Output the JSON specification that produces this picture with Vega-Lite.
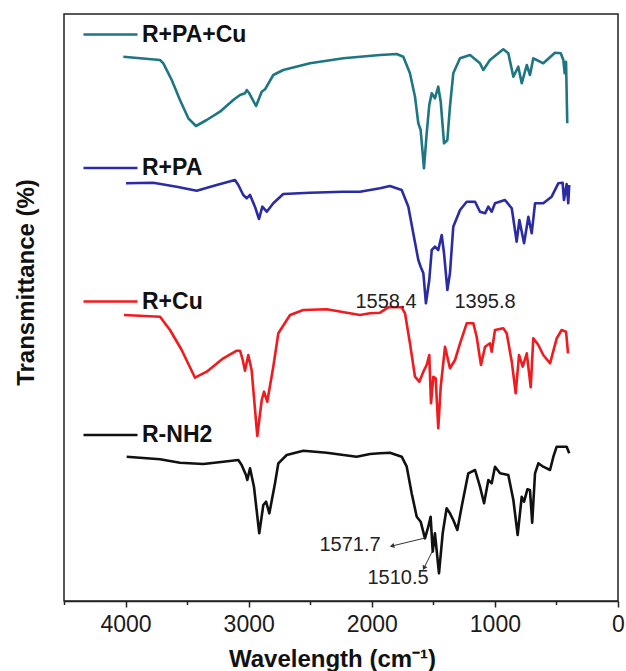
{
  "$schema": "https://vega.github.io/schema/vega-lite/v6.json",
  "width": 554,
  "height": 587,
  "autosize": {"type": "none"},
  "padding": {"left": 64, "top": 14, "right": 8, "bottom": 70},
  "background": "white",
  "config": {
    "font": "Liberation Sans",
    "view": {"stroke": "#222222", "strokeWidth": 1.5},
    "axis": {"domainColor": "#222222", "domainWidth": 1.5, "tickColor": "#222222", "tickWidth": 1.5, "grid": false, "labelFont": "Liberation Sans", "titleFont": "Liberation Sans"}
  },
  "datasets": {
    "spectra": [
      {"sample": "R+PA+Cu", "wn": 4018, "t": 544.3}, {"sample": "R+PA+Cu", "wn": 3720, "t": 541}, {"sample": "R+PA+Cu", "wn": 3693, "t": 537.7}, {"sample": "R+PA+Cu", "wn": 3625, "t": 521}, {"sample": "R+PA+Cu", "wn": 3558, "t": 501}, {"sample": "R+PA+Cu", "wn": 3490, "t": 482.7}, {"sample": "R+PA+Cu", "wn": 3428, "t": 475}, {"sample": "R+PA+Cu", "wn": 3341, "t": 481}, {"sample": "R+PA+Cu", "wn": 3233, "t": 489.3}, {"sample": "R+PA+Cu", "wn": 3125, "t": 501}, {"sample": "R+PA+Cu", "wn": 3070, "t": 506}, {"sample": "R+PA+Cu", "wn": 3030, "t": 507.7}, {"sample": "R+PA+Cu", "wn": 3016, "t": 511}, {"sample": "R+PA+Cu", "wn": 2995, "t": 507.7}, {"sample": "R+PA+Cu", "wn": 2940, "t": 495}, {"sample": "R+PA+Cu", "wn": 2894, "t": 509.3}, {"sample": "R+PA+Cu", "wn": 2867, "t": 511.7}, {"sample": "R+PA+Cu", "wn": 2800, "t": 526}, {"sample": "R+PA+Cu", "wn": 2719, "t": 531}, {"sample": "R+PA+Cu", "wn": 2502, "t": 537.7}, {"sample": "R+PA+Cu", "wn": 2231, "t": 542.7}, {"sample": "R+PA+Cu", "wn": 1933, "t": 546}, {"sample": "R+PA+Cu", "wn": 1798, "t": 547}, {"sample": "R+PA+Cu", "wn": 1744, "t": 544.3}, {"sample": "R+PA+Cu", "wn": 1690, "t": 527.7}, {"sample": "R+PA+Cu", "wn": 1649, "t": 504.3}, {"sample": "R+PA+Cu", "wn": 1622, "t": 477.7}, {"sample": "R+PA+Cu", "wn": 1603, "t": 471}, {"sample": "R+PA+Cu", "wn": 1576, "t": 432.7}, {"sample": "R+PA+Cu", "wn": 1554, "t": 467.7}, {"sample": "R+PA+Cu", "wn": 1533, "t": 496}, {"sample": "R+PA+Cu", "wn": 1513, "t": 507.7}, {"sample": "R+PA+Cu", "wn": 1487, "t": 502.7}, {"sample": "R+PA+Cu", "wn": 1460, "t": 514.3}, {"sample": "R+PA+Cu", "wn": 1440, "t": 499.3}, {"sample": "R+PA+Cu", "wn": 1413, "t": 457.7}, {"sample": "R+PA+Cu", "wn": 1386, "t": 461}, {"sample": "R+PA+Cu", "wn": 1365, "t": 494.3}, {"sample": "R+PA+Cu", "wn": 1338, "t": 527.7}, {"sample": "R+PA+Cu", "wn": 1283, "t": 542.7}, {"sample": "R+PA+Cu", "wn": 1202, "t": 546}, {"sample": "R+PA+Cu", "wn": 1121, "t": 537.7}, {"sample": "R+PA+Cu", "wn": 1094, "t": 531}, {"sample": "R+PA+Cu", "wn": 1040, "t": 541}, {"sample": "R+PA+Cu", "wn": 932, "t": 551.7}, {"sample": "R+PA+Cu", "wn": 891, "t": 547.7}, {"sample": "R+PA+Cu", "wn": 850, "t": 524.3}, {"sample": "R+PA+Cu", "wn": 810, "t": 534.3}, {"sample": "R+PA+Cu", "wn": 782, "t": 517.7}, {"sample": "R+PA+Cu", "wn": 741, "t": 536}, {"sample": "R+PA+Cu", "wn": 715, "t": 526}, {"sample": "R+PA+Cu", "wn": 688, "t": 542.7}, {"sample": "R+PA+Cu", "wn": 660, "t": 541}, {"sample": "R+PA+Cu", "wn": 607, "t": 537.7}, {"sample": "R+PA+Cu", "wn": 512, "t": 548.3}, {"sample": "R+PA+Cu", "wn": 465, "t": 547.7}, {"sample": "R+PA+Cu", "wn": 444, "t": 541}, {"sample": "R+PA+Cu", "wn": 433, "t": 527.7}, {"sample": "R+PA+Cu", "wn": 422, "t": 539.3}, {"sample": "R+PA+Cu", "wn": 412, "t": 477.7},
      {"sample": "R+PA", "wn": 3996, "t": 417.7}, {"sample": "R+PA", "wn": 3775, "t": 418.3}, {"sample": "R+PA", "wn": 3585, "t": 414.3}, {"sample": "R+PA", "wn": 3422, "t": 410.3}, {"sample": "R+PA", "wn": 3260, "t": 416}, {"sample": "R+PA", "wn": 3111, "t": 421}, {"sample": "R+PA", "wn": 3084, "t": 416}, {"sample": "R+PA", "wn": 3044, "t": 406}, {"sample": "R+PA", "wn": 3016, "t": 402.7}, {"sample": "R+PA", "wn": 2989, "t": 406}, {"sample": "R+PA", "wn": 2949, "t": 394.3}, {"sample": "R+PA", "wn": 2916, "t": 382}, {"sample": "R+PA", "wn": 2889, "t": 394.3}, {"sample": "R+PA", "wn": 2853, "t": 389.3}, {"sample": "R+PA", "wn": 2800, "t": 397.7}, {"sample": "R+PA", "wn": 2719, "t": 407}, {"sample": "R+PA", "wn": 2502, "t": 408.3}, {"sample": "R+PA", "wn": 2231, "t": 409.3}, {"sample": "R+PA", "wn": 2096, "t": 409.3}, {"sample": "R+PA", "wn": 1933, "t": 412.7}, {"sample": "R+PA", "wn": 1852, "t": 415}, {"sample": "R+PA", "wn": 1757, "t": 411}, {"sample": "R+PA", "wn": 1703, "t": 394.3}, {"sample": "R+PA", "wn": 1663, "t": 367.7}, {"sample": "R+PA", "wn": 1622, "t": 341}, {"sample": "R+PA", "wn": 1603, "t": 334.3}, {"sample": "R+PA", "wn": 1581, "t": 327.7}, {"sample": "R+PA", "wn": 1560, "t": 297.7}, {"sample": "R+PA", "wn": 1533, "t": 321}, {"sample": "R+PA", "wn": 1513, "t": 351}, {"sample": "R+PA", "wn": 1487, "t": 354.3}, {"sample": "R+PA", "wn": 1460, "t": 351}, {"sample": "R+PA", "wn": 1432, "t": 366}, {"sample": "R+PA", "wn": 1413, "t": 347.7}, {"sample": "R+PA", "wn": 1386, "t": 311}, {"sample": "R+PA", "wn": 1365, "t": 327.7}, {"sample": "R+PA", "wn": 1338, "t": 374.3}, {"sample": "R+PA", "wn": 1283, "t": 391}, {"sample": "R+PA", "wn": 1229, "t": 399.3}, {"sample": "R+PA", "wn": 1161, "t": 399.3}, {"sample": "R+PA", "wn": 1121, "t": 389.3}, {"sample": "R+PA", "wn": 1080, "t": 387.7}, {"sample": "R+PA", "wn": 1053, "t": 394.3}, {"sample": "R+PA", "wn": 1026, "t": 389.3}, {"sample": "R+PA", "wn": 999, "t": 397.7}, {"sample": "R+PA", "wn": 918, "t": 401}, {"sample": "R+PA", "wn": 863, "t": 392.7}, {"sample": "R+PA", "wn": 823, "t": 359.3}, {"sample": "R+PA", "wn": 801, "t": 381}, {"sample": "R+PA", "wn": 763, "t": 357.7}, {"sample": "R+PA", "wn": 728, "t": 384.3}, {"sample": "R+PA", "wn": 701, "t": 367.7}, {"sample": "R+PA", "wn": 674, "t": 397.7}, {"sample": "R+PA", "wn": 607, "t": 397.7}, {"sample": "R+PA", "wn": 539, "t": 404.3}, {"sample": "R+PA", "wn": 485, "t": 417.7}, {"sample": "R+PA", "wn": 450, "t": 418.3}, {"sample": "R+PA", "wn": 439, "t": 401}, {"sample": "R+PA", "wn": 417, "t": 417}, {"sample": "R+PA", "wn": 404, "t": 397.7}, {"sample": "R+PA", "wn": 396, "t": 416},
      {"sample": "R+Cu", "wn": 4013, "t": 286}, {"sample": "R+Cu", "wn": 3720, "t": 284.3}, {"sample": "R+Cu", "wn": 3639, "t": 271}, {"sample": "R+Cu", "wn": 3544, "t": 251}, {"sample": "R+Cu", "wn": 3436, "t": 223.3}, {"sample": "R+Cu", "wn": 3341, "t": 229.3}, {"sample": "R+Cu", "wn": 3206, "t": 242.7}, {"sample": "R+Cu", "wn": 3097, "t": 250.3}, {"sample": "R+Cu", "wn": 3070, "t": 250.3}, {"sample": "R+Cu", "wn": 3048, "t": 241}, {"sample": "R+Cu", "wn": 3030, "t": 230.3}, {"sample": "R+Cu", "wn": 3003, "t": 246}, {"sample": "R+Cu", "wn": 2976, "t": 231}, {"sample": "R+Cu", "wn": 2930, "t": 165}, {"sample": "R+Cu", "wn": 2894, "t": 201}, {"sample": "R+Cu", "wn": 2875, "t": 209.3}, {"sample": "R+Cu", "wn": 2849, "t": 199.3}, {"sample": "R+Cu", "wn": 2800, "t": 234.3}, {"sample": "R+Cu", "wn": 2759, "t": 267.7}, {"sample": "R+Cu", "wn": 2664, "t": 286}, {"sample": "R+Cu", "wn": 2556, "t": 291}, {"sample": "R+Cu", "wn": 2366, "t": 291.7}, {"sample": "R+Cu", "wn": 2096, "t": 286}, {"sample": "R+Cu", "wn": 2014, "t": 287.7}, {"sample": "R+Cu", "wn": 1933, "t": 288.3}, {"sample": "R+Cu", "wn": 1866, "t": 293.7}, {"sample": "R+Cu", "wn": 1757, "t": 293.7}, {"sample": "R+Cu", "wn": 1730, "t": 287.7}, {"sample": "R+Cu", "wn": 1690, "t": 257.7}, {"sample": "R+Cu", "wn": 1649, "t": 224.3}, {"sample": "R+Cu", "wn": 1614, "t": 219.3}, {"sample": "R+Cu", "wn": 1581, "t": 229.3}, {"sample": "R+Cu", "wn": 1554, "t": 236}, {"sample": "R+Cu", "wn": 1533, "t": 246}, {"sample": "R+Cu", "wn": 1519, "t": 197.7}, {"sample": "R+Cu", "wn": 1500, "t": 224.3}, {"sample": "R+Cu", "wn": 1481, "t": 222.7}, {"sample": "R+Cu", "wn": 1460, "t": 172.7}, {"sample": "R+Cu", "wn": 1440, "t": 214.3}, {"sample": "R+Cu", "wn": 1405, "t": 254.3}, {"sample": "R+Cu", "wn": 1365, "t": 232.7}, {"sample": "R+Cu", "wn": 1324, "t": 241}, {"sample": "R+Cu", "wn": 1283, "t": 257.7}, {"sample": "R+Cu", "wn": 1229, "t": 277.7}, {"sample": "R+Cu", "wn": 1175, "t": 277.7}, {"sample": "R+Cu", "wn": 1148, "t": 264.3}, {"sample": "R+Cu", "wn": 1113, "t": 236}, {"sample": "R+Cu", "wn": 1080, "t": 254.3}, {"sample": "R+Cu", "wn": 1040, "t": 257.7}, {"sample": "R+Cu", "wn": 1026, "t": 249.3}, {"sample": "R+Cu", "wn": 999, "t": 271}, {"sample": "R+Cu", "wn": 932, "t": 272.7}, {"sample": "R+Cu", "wn": 904, "t": 267.7}, {"sample": "R+Cu", "wn": 863, "t": 239.3}, {"sample": "R+Cu", "wn": 831, "t": 207.7}, {"sample": "R+Cu", "wn": 804, "t": 246}, {"sample": "R+Cu", "wn": 774, "t": 234.3}, {"sample": "R+Cu", "wn": 741, "t": 247.7}, {"sample": "R+Cu", "wn": 709, "t": 213.7}, {"sample": "R+Cu", "wn": 688, "t": 262.7}, {"sample": "R+Cu", "wn": 647, "t": 256}, {"sample": "R+Cu", "wn": 607, "t": 246}, {"sample": "R+Cu", "wn": 552, "t": 237.7}, {"sample": "R+Cu", "wn": 498, "t": 262.7}, {"sample": "R+Cu", "wn": 458, "t": 271}, {"sample": "R+Cu", "wn": 422, "t": 269.3}, {"sample": "R+Cu", "wn": 406, "t": 247.7},
      {"sample": "R-NH2", "wn": 3991, "t": 144.3}, {"sample": "R-NH2", "wn": 3720, "t": 141.7}, {"sample": "R-NH2", "wn": 3558, "t": 138.3}, {"sample": "R-NH2", "wn": 3368, "t": 137}, {"sample": "R-NH2", "wn": 3206, "t": 139.3}, {"sample": "R-NH2", "wn": 3084, "t": 141}, {"sample": "R-NH2", "wn": 3057, "t": 136}, {"sample": "R-NH2", "wn": 3022, "t": 126}, {"sample": "R-NH2", "wn": 3011, "t": 121}, {"sample": "R-NH2", "wn": 2989, "t": 132.7}, {"sample": "R-NH2", "wn": 2957, "t": 114.3}, {"sample": "R-NH2", "wn": 2914, "t": 67.7}, {"sample": "R-NH2", "wn": 2881, "t": 96}, {"sample": "R-NH2", "wn": 2859, "t": 99.3}, {"sample": "R-NH2", "wn": 2832, "t": 87.7}, {"sample": "R-NH2", "wn": 2786, "t": 117.7}, {"sample": "R-NH2", "wn": 2759, "t": 137.7}, {"sample": "R-NH2", "wn": 2691, "t": 146}, {"sample": "R-NH2", "wn": 2556, "t": 150.3}, {"sample": "R-NH2", "wn": 2366, "t": 148.3}, {"sample": "R-NH2", "wn": 2123, "t": 144.3}, {"sample": "R-NH2", "wn": 2014, "t": 147}, {"sample": "R-NH2", "wn": 1933, "t": 147.7}, {"sample": "R-NH2", "wn": 1852, "t": 148.3}, {"sample": "R-NH2", "wn": 1757, "t": 144.3}, {"sample": "R-NH2", "wn": 1716, "t": 134.3}, {"sample": "R-NH2", "wn": 1676, "t": 107.7}, {"sample": "R-NH2", "wn": 1635, "t": 84.3}, {"sample": "R-NH2", "wn": 1603, "t": 79.3}, {"sample": "R-NH2", "wn": 1568, "t": 62.7}, {"sample": "R-NH2", "wn": 1541, "t": 74.3}, {"sample": "R-NH2", "wn": 1522, "t": 84.3}, {"sample": "R-NH2", "wn": 1505, "t": 49.3}, {"sample": "R-NH2", "wn": 1487, "t": 67.7}, {"sample": "R-NH2", "wn": 1454, "t": 27.7}, {"sample": "R-NH2", "wn": 1424, "t": 67.7}, {"sample": "R-NH2", "wn": 1392, "t": 92.7}, {"sample": "R-NH2", "wn": 1365, "t": 87.7}, {"sample": "R-NH2", "wn": 1338, "t": 81}, {"sample": "R-NH2", "wn": 1305, "t": 71}, {"sample": "R-NH2", "wn": 1270, "t": 94.3}, {"sample": "R-NH2", "wn": 1216, "t": 127.7}, {"sample": "R-NH2", "wn": 1161, "t": 131}, {"sample": "R-NH2", "wn": 1121, "t": 114.3}, {"sample": "R-NH2", "wn": 1088, "t": 97.7}, {"sample": "R-NH2", "wn": 1053, "t": 121}, {"sample": "R-NH2", "wn": 1026, "t": 117.7}, {"sample": "R-NH2", "wn": 999, "t": 134.3}, {"sample": "R-NH2", "wn": 958, "t": 127.7}, {"sample": "R-NH2", "wn": 891, "t": 126}, {"sample": "R-NH2", "wn": 850, "t": 101}, {"sample": "R-NH2", "wn": 815, "t": 66}, {"sample": "R-NH2", "wn": 782, "t": 104.3}, {"sample": "R-NH2", "wn": 763, "t": 99.3}, {"sample": "R-NH2", "wn": 736, "t": 111.7}, {"sample": "R-NH2", "wn": 715, "t": 111}, {"sample": "R-NH2", "wn": 697, "t": 78.3}, {"sample": "R-NH2", "wn": 674, "t": 127.7}, {"sample": "R-NH2", "wn": 647, "t": 137.7}, {"sample": "R-NH2", "wn": 607, "t": 134.3}, {"sample": "R-NH2", "wn": 552, "t": 131}, {"sample": "R-NH2", "wn": 525, "t": 144.3}, {"sample": "R-NH2", "wn": 498, "t": 154.3}, {"sample": "R-NH2", "wn": 417, "t": 154.3}, {"sample": "R-NH2", "wn": 396, "t": 147.7}
    ],
    "labels": [
      {"label": "1558.4", "wn": 1884, "t": 299},
      {"label": "1395.8", "wn": 1080, "t": 299},
      {"label": "1571.7", "wn": 2177, "t": 56},
      {"label": "1510.5", "wn": 1787, "t": 23}
    ],
    "arrows": [
      {"id": "a1", "wn": 1836, "t": 55, "wn2": 1568, "t2": 63},
      {"id": "a2", "wn": 1576, "t": 33, "wn2": 1511, "t2": 49}
    ]
  },
  "layer": [
    {
      "data": {"name": "spectra"},
      "mark": {"type": "line", "strokeWidth": 2.6, "strokeJoin": "round"},
      "encoding": {
        "x": {"field": "wn", "type": "quantitative", "scale": {"domain": [0, 4500], "reverse": true, "nice": false},
          "axis": {
            "title": "Wavelength (cm⁻¹)",
            "values": [4500, 4000, 3500, 3000, 2500, 2000, 1500, 1000, 500, 0],
            "format": "d",
            "labelExpr": "datum.value % 1000 === 0 ? datum.label : ''",
            "tickSize": {"condition": {"test": "datum.value % 1000 === 0", "value": 6}, "value": 3.5},
            "labelFontSize": 23, "labelColor": "#1a1a1a", "labelPadding": 6, "labelFlush": false, "labelOverlap": false,
            "titleFontSize": 24, "titleFontWeight": "bold", "titleColor": "#111111", "titlePadding": 11, "titleX": 268
          }
        },
        "y": {"field": "t", "type": "quantitative", "scale": {"domain": [0, 587], "nice": false, "zero": false},
          "axis": {"title": "Transmittance (%)", "labels": false, "ticks": false, "domain": false, "titleFontSize": 24, "titleFontWeight": "bold", "titleColor": "#111111", "titlePadding": 26, "titleY": 268}
        },
        "color": {"field": "sample", "type": "nominal",
          "scale": {"domain": ["R+PA+Cu", "R+PA", "R+Cu", "R-NH2"], "range": ["#1d7682", "#2b2ba3", "#f01b1e", "#111111"]},
          "legend": {"orient": "none", "legendX": 18, "legendY": -8, "title": null, "symbolType": "stroke", "symbolSize": 2916, "symbolStrokeWidth": 2.6, "labelFontSize": 23, "labelFontWeight": "bold", "labelColor": "#111111", "labelOffset": 3, "rowPadding": 92.5, "padding": 0, "labelLimit": 300}
        }
      }
    },
    {
      "data": {"name": "labels"},
      "mark": {"type": "text", "fontSize": 20, "color": "#222222", "align": "center", "baseline": "middle"},
      "encoding": {"x": {"field": "wn", "type": "quantitative"}, "y": {"field": "t", "type": "quantitative"}, "text": {"field": "label"}}
    },
    {
      "data": {"name": "arrows"},
      "mark": {"type": "rule", "strokeWidth": 1, "color": "#333333"},
      "encoding": {"x": {"field": "wn", "type": "quantitative"}, "y": {"field": "t", "type": "quantitative"}, "x2": {"field": "wn2"}, "y2": {"field": "t2"}}
    },
    {
      "data": {"name": "arrows"},
      "transform": [{"filter": "datum.id === 'a1'"}],
      "mark": {"type": "point", "shape": "triangle-up", "filled": true, "size": 28, "angle": 256, "color": "#333333", "opacity": 1},
      "encoding": {"x": {"field": "wn", "type": "quantitative"}, "y": {"field": "t", "type": "quantitative"}}
    },
    {
      "data": {"name": "arrows"},
      "transform": [{"filter": "datum.id === 'a2'"}],
      "mark": {"type": "point", "shape": "triangle-up", "filled": true, "size": 28, "angle": 207, "color": "#333333", "opacity": 1},
      "encoding": {"x": {"field": "wn", "type": "quantitative"}, "y": {"field": "t", "type": "quantitative"}}
    }
  ]
}
